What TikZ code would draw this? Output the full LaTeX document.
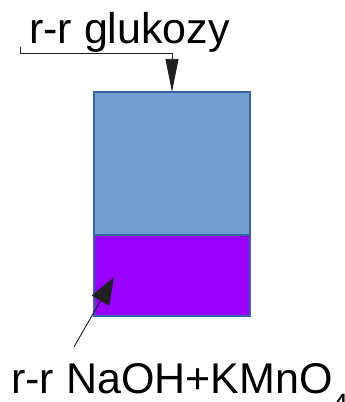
\documentclass[tikz,border=0pt]{standalone}
\usepackage{fontspec}
\setmainfont{Liberation Sans}
\usetikzlibrary{arrows.meta}
\definecolor{solblue}{HTML}{729FCF}
\definecolor{soledge}{HTML}{3465A4}
\definecolor{solviolet}{HTML}{9900FF}
\definecolor{leader}{HTML}{202020}
\begin{document}
\begin{tikzpicture}[x=1pt,y=-1pt,
  layer/.style={draw=soledge,line width=1.2pt,inner sep=0pt,outer sep=0pt},
  label/.style={font=\fontsize{43}{43}\selectfont,inner sep=0pt,anchor=base west},
  leaderline/.style={draw=leader,line width=0.9pt}]
  \useasboundingbox (0,0) rectangle (345,402);
  % vessel with two liquid layers
  \path[layer,fill=solblue] (94,92) rectangle (250,235);
  \path[layer,fill=solviolet] (94,235) rectangle (250,316);
  \node[inner sep=0pt,minimum size=0pt] (upper) at (172,92) {};
  \node[inner sep=0pt,minimum size=0pt] (lower) at (114,277) {};
  % labels
  \node[label] (glu) at (29,43) {r-r glukozy};
  \node[label] (reag) at (11,393) {r-r NaOH+KMnO\raisebox{-20pt}{\fontsize{28}{28}\selectfont 4}};
  % leaders
  \coordinate (gl) at (20,47);
  \coordinate (gk) at (172,53);
  \draw[leaderline,-{Triangle[length=33pt,width=13pt]}] (gl) -- (20,53) -- (gk) -- (upper);
  \coordinate (rl) at (74,347);
  \draw[leaderline,-{Triangle[length=27pt,width=20pt]}] (rl) -- (lower);
\end{tikzpicture}
\end{document}
